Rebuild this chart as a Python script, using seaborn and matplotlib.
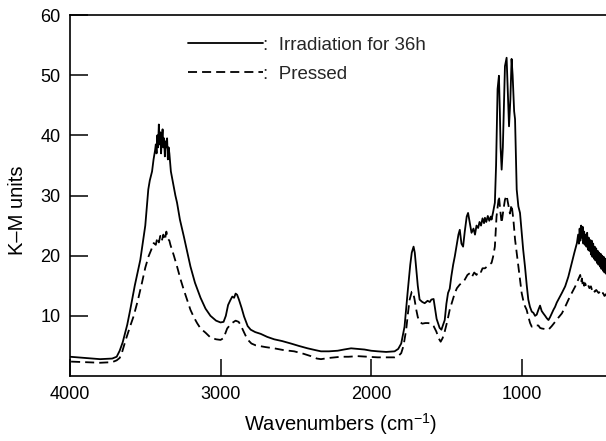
import matplotlib
matplotlib.use("Agg")
import matplotlib.pyplot as plt
import seaborn as sns
import pandas as pd

# Irradiated sample (K-M units vs wavenumber)
irr_wn = [4000, 3900, 3800, 3720, 3690, 3670, 3650, 3620, 3600, 3570, 3533, 3500,
          3480, 3470, 3455, 3445, 3435, 3430, 3425, 3420, 3415, 3410, 3405, 3400,
          3395, 3390, 3385, 3380, 3375, 3370, 3365, 3360, 3355, 3350, 3345, 3340,
          3330, 3320, 3300, 3289, 3270, 3244, 3220, 3200, 3170, 3133, 3100, 3067,
          3030, 3000, 2980, 2965, 2950, 2935, 2922, 2910, 2900, 2890, 2878, 2860,
          2844, 2820, 2800, 2770, 2733, 2690, 2644, 2590, 2533, 2480, 2422, 2370,
          2333, 2280, 2222, 2180, 2133, 2090, 2044, 2000, 1956, 1900, 1844, 1820,
          1800, 1778, 1756, 1740, 1730, 1718, 1710, 1700, 1690, 1678, 1660, 1644,
          1625, 1610, 1600, 1585, 1578, 1565, 1556, 1545, 1533, 1522, 1511, 1500,
          1489, 1478, 1467, 1455, 1444, 1430, 1420, 1411, 1400, 1389, 1378, 1365,
          1356, 1345, 1333, 1320, 1310, 1300, 1289, 1280, 1270, 1260, 1250, 1244,
          1235, 1225, 1215, 1205, 1200, 1190, 1178, 1170, 1160, 1151, 1145, 1140,
          1133, 1125, 1118, 1111, 1100, 1092, 1084, 1075, 1067, 1060, 1050, 1044,
          1038, 1033, 1022, 1011, 1000, 990, 978, 966, 956, 945, 933, 922,
          911, 900, 889, 878, 867, 856, 844, 833, 822, 811, 800, 789,
          778, 767, 756, 733, 711, 690, 667, 650, 633, 625, 620, 615,
          610, 605, 600, 595, 590, 585, 580, 575, 570, 565, 560, 555,
          550, 545, 540, 535, 530, 525, 520, 515, 510, 505, 500, 495,
          490, 485, 480, 475, 470, 465, 460, 455, 450, 445, 440, 435,
          430, 420, 410, 400]
irr_km = [3.2, 3.0, 2.8, 2.9, 3.2, 4.2, 5.6, 8.5, 11.0, 15.0, 19.3, 25.0,
          31.0, 32.5, 34.0, 36.0, 37.5, 38.5, 37.0, 40.0, 38.0, 41.8, 38.5, 40.5,
          37.0, 39.5, 41.0, 38.0, 39.5, 36.5, 39.0, 38.0, 39.5, 36.0, 38.0, 37.0,
          34.0, 32.7, 30.0, 28.8, 26.0, 23.2, 20.5, 18.2, 15.5, 13.0, 11.2, 10.0,
          9.2, 8.9, 9.0, 10.0, 11.8, 12.6, 13.2, 13.0, 13.7, 13.5, 12.7, 11.3,
          9.9, 8.3, 7.7, 7.3, 7.0, 6.5, 6.1, 5.8, 5.4, 5.0, 4.6, 4.3,
          4.1, 4.1, 4.2, 4.4, 4.6, 4.5, 4.4, 4.2, 4.1, 4.0, 4.1, 4.5,
          5.4, 8.2, 14.3, 18.5, 20.5, 21.5, 20.5, 17.7, 15.0, 12.7, 12.3, 12.1,
          12.5, 12.3, 12.7, 12.8, 11.6, 9.5, 8.8, 8.0, 7.7, 8.5, 9.3, 12.0,
          13.8, 14.5, 16.6, 18.5, 19.9, 22.0, 23.5, 24.3, 22.0, 21.5, 24.0, 26.5,
          27.1, 25.5, 23.8, 24.5, 23.5, 25.0, 24.6, 25.6, 25.0, 26.2, 25.4, 26.3,
          25.6, 26.6, 25.8, 26.5, 26.0, 27.2, 28.8, 35.0, 47.7, 49.9, 44.0, 38.0,
          34.3, 38.0, 45.0, 51.5, 52.9, 47.0, 41.5, 46.0, 52.7, 50.0, 44.0, 42.7,
          36.0, 31.0, 28.2, 27.1, 24.0, 21.0, 18.2, 15.0, 12.7, 11.5, 10.7, 10.5,
          10.0, 10.2, 11.0, 11.7, 10.8, 10.4, 10.0, 9.6, 9.3, 9.8, 10.4, 11.0,
          11.5, 12.2, 12.7, 13.8, 14.9, 16.5, 18.8, 20.5, 22.1, 23.5, 22.0, 24.5,
          22.5, 25.0, 23.0, 24.8, 22.0, 24.0, 21.8, 23.5, 21.5, 23.8, 21.0, 23.0,
          20.8, 22.6, 20.2, 22.5, 19.8, 22.0, 19.5, 21.5, 19.2, 21.2, 18.8, 20.8,
          18.5, 20.5, 18.2, 20.3, 17.8, 20.0, 17.5, 19.8, 17.2, 19.5, 17.0, 19.3,
          16.8, 18.5, 17.5, 18.0]

# Pressed sample
prs_wn = [4000, 3900, 3800, 3720, 3690, 3670, 3656, 3630, 3600, 3578, 3550, 3522,
          3500, 3478, 3460, 3444, 3430, 3420, 3410, 3400, 3390, 3380, 3370, 3360,
          3350, 3340, 3333, 3310, 3289, 3265, 3244, 3220, 3200, 3178, 3156, 3133,
          3100, 3067, 3030, 3000, 2980, 2956, 2930, 2900, 2880, 2867, 2845, 2822,
          2795, 2767, 2700, 2644, 2580, 2511, 2450, 2400, 2360, 2333, 2280, 2200,
          2150, 2089, 2020, 1956, 1900, 1844, 1820, 1800, 1785, 1767, 1755, 1744,
          1730, 1722, 1712, 1700, 1690, 1678, 1660, 1640, 1622, 1600, 1585, 1567,
          1550, 1538, 1525, 1511, 1495, 1478, 1460, 1444, 1430, 1411, 1395, 1378,
          1360, 1344, 1330, 1315, 1300, 1285, 1270, 1260, 1244, 1230, 1215, 1200,
          1190, 1178, 1167, 1151, 1142, 1133, 1122, 1111, 1100, 1089, 1078, 1067,
          1055, 1044, 1033, 1022, 1011, 1000, 989, 978, 967, 955, 944, 933,
          922, 911, 900, 889, 878, 867, 844, 822, 800, 778, 756, 733,
          711, 689, 667, 644, 625, 611, 605, 600, 595, 590, 585, 578,
          570, 560, 550, 540, 533, 525, 515, 505, 489, 480, 470, 460,
          450, 440, 433, 420, 400]
prs_km = [2.4, 2.3, 2.2, 2.3, 2.6, 3.0, 3.8, 6.0, 8.3, 9.9, 12.5, 15.5,
          18.0, 19.9, 21.0, 22.1, 21.8, 23.0, 22.2, 23.3, 22.5, 23.5, 22.6, 24.0,
          22.8, 22.5, 21.8, 20.0, 18.2, 16.0, 14.3, 12.5, 11.0, 9.8, 8.8, 7.9,
          7.2, 6.4, 6.1, 6.0, 6.3, 7.9, 8.7, 9.2, 9.0, 8.5, 7.3, 6.1,
          5.4, 5.1, 4.8, 4.6, 4.3, 4.1, 3.7, 3.3, 2.9, 2.8, 3.0, 3.2,
          3.2, 3.3, 3.2, 3.1, 3.1, 3.1, 3.3, 3.8, 5.0, 7.7, 10.5, 12.7,
          14.0, 14.0, 12.8, 11.0, 9.8, 9.0, 8.7, 8.8, 8.8, 8.7, 8.3, 7.4,
          6.2, 5.7, 6.3, 7.4, 9.0, 11.0, 12.5, 13.8, 14.6, 15.2, 15.5, 16.0,
          16.8, 17.1, 16.5, 17.2, 16.8, 17.5, 17.3, 17.9, 17.9, 18.2, 18.5, 18.8,
          19.8, 21.5, 26.5, 29.9, 27.5, 25.4, 27.5, 29.3, 30.0, 28.5, 27.0, 28.5,
          26.0, 22.7, 20.5, 18.2, 16.0, 13.8, 12.5, 11.6, 11.0, 9.8, 8.8, 8.2,
          8.3, 8.2, 8.4, 8.4, 8.0, 7.9, 7.8, 7.7, 8.3, 9.0, 9.7, 10.4,
          11.5, 12.7, 13.8, 14.9, 16.0, 16.8, 15.6, 16.2, 15.2, 15.8, 15.0, 15.4,
          14.8, 15.2, 14.6, 14.9, 14.3, 14.6, 14.0, 14.3, 13.8, 14.0, 13.5, 13.8,
          13.3, 13.6, 13.2, 13.4, 13.0]

series_labels = [":  Irradiation for 36h", ":  Pressed"]
x_ticks = [4000, 3000, 2000, 1000]
y_ticks = [10, 20, 30, 40, 50, 60]

sns.set_theme(style="white")
plt.rcParams.update({
    "font.family": ["Liberation Sans", "DejaVu Sans"],
    "mathtext.fontset": "custom",
    "mathtext.rm": "Liberation Sans",
    "mathtext.it": "Liberation Sans",
    "xtick.direction": "in",
    "ytick.direction": "in",
    "xtick.bottom": True,
    "ytick.left": True,
    "xtick.major.size": 12.5,
    "ytick.major.size": 13,
    "xtick.major.width": 1.1,
    "ytick.major.width": 1.1,
    "xtick.major.pad": 7,
    "ytick.major.pad": 7,
    "xtick.color": "black",
    "ytick.color": "black",
    "xtick.labelsize": 13,
    "ytick.labelsize": 13,
})

df_irr = pd.DataFrame({"wn": irr_wn, "km": irr_km})
df_prs = pd.DataFrame({"wn": prs_wn, "km": prs_km})

fig = plt.figure(figsize=(6.06, 4.41), dpi=100)
ax = fig.add_axes([70 / 606, 65 / 441, 542 / 606, 361 / 441])

sns.lineplot(data=df_irr, x="wn", y="km", ax=ax, color="black", lw=1.3,
             estimator=None, label=series_labels[0])
sns.lineplot(data=df_prs, x="wn", y="km", ax=ax, color="black", lw=1.3,
             estimator=None, label=series_labels[1])
ax.lines[1].set_dashes((5, 2.8))

ax.set_xlim(4000, 400)
ax.set_ylim(0, 60)
ax.set_xticks(x_ticks)
ax.set_xticklabels([str(t) for t in x_ticks])
ax.set_yticks(y_ticks)
ax.set_yticklabels([str(t) for t in y_ticks])
ax.tick_params(axis="both", which="major", direction="in")

for side in ("left", "top", "bottom"):
    ax.spines[side].set_visible(True)
    ax.spines[side].set_color("black")
    ax.spines[side].set_linewidth(1.2)
ax.spines["right"].set_visible(False)

ax.set_xlabel("Wavenumbers (cm$^{-1}$)", fontsize=14.5, labelpad=6, color="black")
ax.set_ylabel("K–M units", fontsize=14.5, color="black")
ax.yaxis.set_label_coords(-0.08, 0.46)

leg = ax.legend(loc="upper left", bbox_to_anchor=(0.2177, 0.94), frameon=False,
                fontsize=13.5, handlelength=4.0, handletextpad=0.0,
                borderpad=0, borderaxespad=0, labelspacing=0.62)
leg.get_lines()[1].set_dashes((5, 2.8))

fig.savefig("out.png", dpi=100)
